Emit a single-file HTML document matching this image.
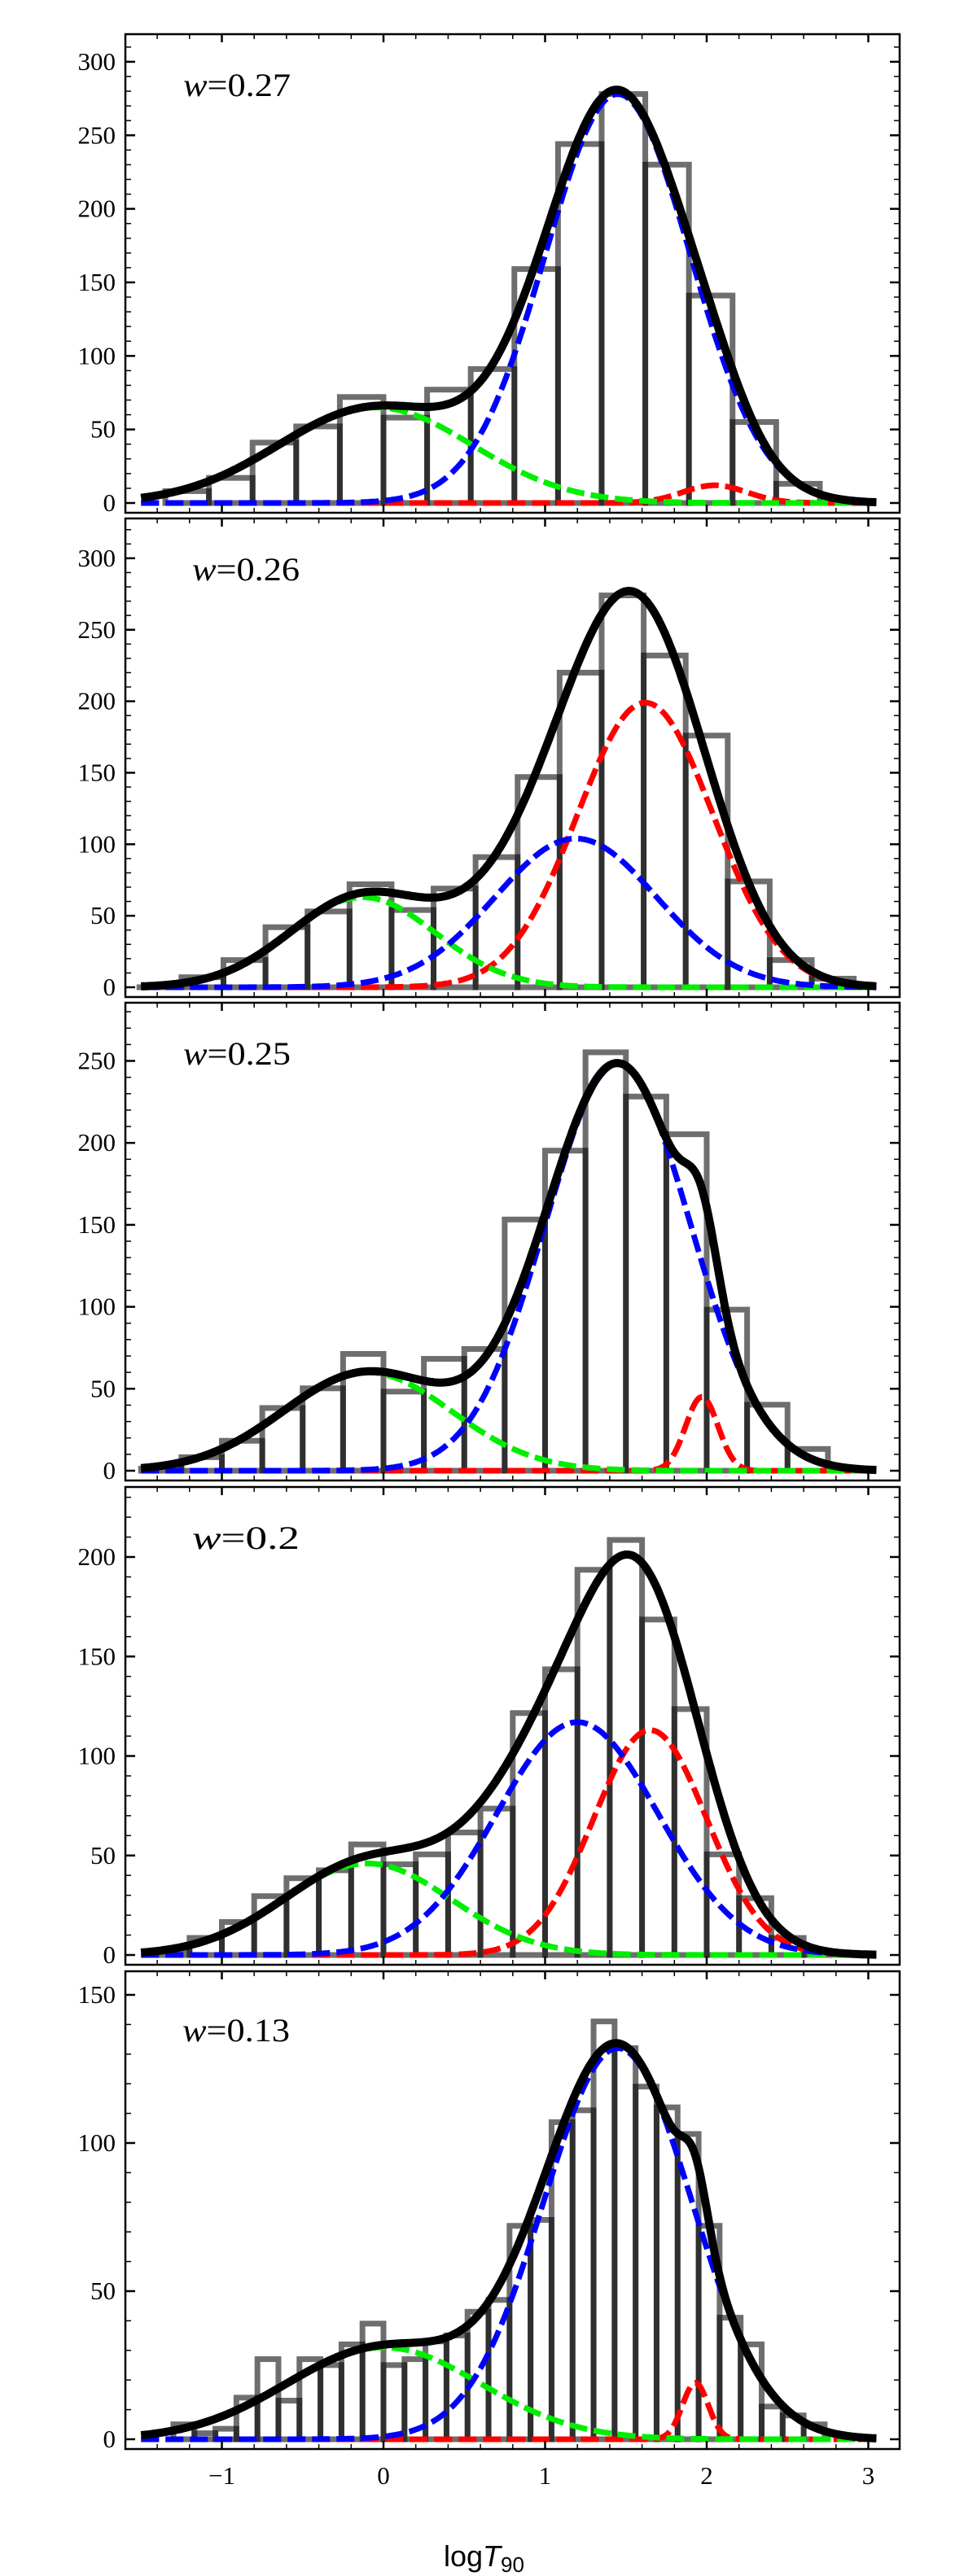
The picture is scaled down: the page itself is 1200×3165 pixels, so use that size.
<!DOCTYPE html>
<html><head><meta charset="utf-8"><style>
html,body{margin:0;padding:0;background:#fff;}
svg{display:block;}
.num{font-family:"Liberation Serif","Times New Roman",serif;}
</style></head><body>
<svg id="chart" width="1200" height="3165" viewBox="0 0 1200 3165" xmlns="http://www.w3.org/2000/svg">
<g id="layer"></g>
<text x="545" y="3153" style="font-family:'Liberation Sans',sans-serif" font-size="36">log<tspan font-style="italic">T</tspan><tspan font-size="26" dy="7">90</tspan></text>
</svg>
<script>
// ---- data ----
const binWidths = [0.27, 0.26, 0.25, 0.2, 0.13];
const binStarts = [-1.35, -1.51, -1.5, -1.4, -1.30];
const counts1 = [10, 19, 43, 54, 74, 60, 79, 93, 161, 246, 280, 232, 143, 57, 15, 2];
const counts2 = [2, 9, 21, 44, 55, 74, 56, 71, 93, 149, 222, 276, 234, 178, 76, 21, 8];
const counts3 = [3, 10, 20, 40, 52, 73, 50, 70, 76, 155, 197, 257, 230, 207, 100, 42, 15, 3];
const counts4 = [3, 10, 18, 31, 40, 44, 57, 47, 52, 63, 75, 123, 145, 195, 210, 170, 125, 52, 30, 10, 3];
const counts5 = [6, 3, 4.5, 15, 28, 14, 28, 26, 33, 40, 26, 28, 34, 36, 44, 48, 73, 75, 108, 112, 142, 133, 120, 113, 104, 73, 42, 33, 12, 9, 6];
// component parameters: [amplitude, mean, sigma]
const green1 = [65, -0.05, 0.6],  blue1 = [278, 1.45, 0.45], red1 = [12, 2.05, 0.2];
const green2 = [63, -0.13, 0.45], blue2 = [104, 1.19, 0.5],  red2 = [199, 1.62, 0.42];
const green3 = [60, -0.1, 0.52],  blue3 = [248, 1.45, 0.45], red3 = [45, 1.97, 0.1];
const green4 = [46, -0.1, 0.52],  blue4 = [117, 1.2, 0.5],   red4 = [113, 1.65, 0.35];
const green5 = [31, 0.0, 0.6],    blue5 = [132, 1.45, 0.46], red5 = [19, 1.93, 0.08];
const wLabels = ["0.27", "0.26", "0.25", "0.2", "0.13"];
const yMaxTicks = [300, 300, 250, 200, 150];
const xTickLabels = ["\u22121", "0", "1", "2", "3"];
const xTickValues = [-1, 0, 1, 2, 3];

// ---- layout ----
const NS = "http://www.w3.org/2000/svg";
const layer = document.getElementById("layer");
const L = 154, R = 1105;
const panelTop = [42, 637, 1232, 1827, 2422];
const panelZero = [618, 1213, 1807, 2402, 2997];
const panelScale = [1.807, 1.757, 2.014, 2.445, 3.64];
const labelX = [225, 236, 225, 236, 224];
const allCounts = [counts1, counts2, counts3, counts4, counts5];
const greens = [green1, green2, green3, green4, green5];
const blues = [blue1, blue2, blue3, blue4, blue5];
const reds = [red1, red2, red3, red4, red5];
function xs(v) { return 471 + v * 198.5; }
function mk(tag, attrs, parent) {
  const e = document.createElementNS(NS, tag);
  for (const k in attrs) e.setAttribute(k, attrs[k]);
  (parent || layer).appendChild(e);
  return e;
}
function gauss(p, x) { return p[0] * Math.exp(-((x - p[1]) ** 2) / (2 * p[2] * p[2])); }

for (let i = 0; i < 5; i++) {
  const top = panelTop[i], zero = panelZero[i], sc = panelScale[i], bot = zero + 12;
  const ys = v => zero - v * sc;
  const g = mk("g", {});
  
  
  const clipId = "clip" + i;
  const cp = mk("clipPath", { id: clipId }, g);
  mk("rect", { x: L, y: top, width: R - L, height: bot - top }, cp);
  const inner = mk("g", { "clip-path": "url(#" + clipId + ")" }, g);

  // bars
  const cnt = allCounts[i];
  for (let b = 0; b < cnt.length; b++) {
    const x0 = xs(binStarts[i] + b * binWidths[i]), x1 = xs(binStarts[i] + (b + 1) * binWidths[i]);
    const yt = ys(cnt[b]) + 3.5;
    const r = mk("rect", { x: x0, y: yt, width: x1 - x0, height: Math.max(0, zero - yt), fill: "none", stroke: "#000", "stroke-opacity": "0.57", "stroke-width": "7" }, inner);
    
    
  }

  // curves
  function pathFor(fn) {
    let d = "";
    for (let x = -1.5; x <= 3.05001; x += 0.01) {
      d += (d ? "L" : "M") + xs(x).toFixed(1) + "," + ys(fn(x)).toFixed(1);
    }
    return d;
  }
  const comps = [[reds[i], "#ff0000", "red-component-curve"], [greens[i], "#00ee00", "green-component-curve"], [blues[i], "#0000ff", "blue-component-curve"]];
  for (const c of comps) {
    const p = mk("path", { d: pathFor(x => gauss(c[0], x)), fill: "none", stroke: c[1], "stroke-width": "7", "stroke-dasharray": "22 8" }, inner);
    
    
  }
  const tot = mk("path", { d: pathFor(x => gauss(greens[i], x) + gauss(blues[i], x) + gauss(reds[i], x)), fill: "none", stroke: "#000", "stroke-width": "10", "stroke-linejoin": "round" }, inner);
  
  

  // frame
  const fr = mk("rect", { x: L, y: top, width: R - L, height: bot - top, fill: "none", stroke: "#000", "stroke-width": "2.5" }, g);
  
  

  // y ticks
  for (let v = 0; ; v += 10) {
    const y = ys(v);
    if (y < top + 2) break;
    const major = v % 50 === 0;
    const len = major ? 12 : 7;
    mk("line", { x1: L, y1: y, x2: L + len, y2: y, stroke: "#000", "stroke-width": major ? 2.5 : 1.5 }, g);
    mk("line", { x1: R, y1: y, x2: R - len, y2: y, stroke: "#000", "stroke-width": major ? 2.5 : 1.5 }, g);
    if (major && v <= yMaxTicks[i]) {
      const t = mk("text", { x: 142, y: y + 10, "text-anchor": "end", "class": "num", "font-size": "31" }, g);
      t.textContent = String(v);
      
      
    }
  }
  // x ticks
  for (let k = -8; k <= 16; k++) {
    const v = k * 0.2;
    const x = xs(v);
    if (x < L + 3 || x > R - 3) continue;
    const major = k % 5 === 0;
    const len = major ? 10 : 6;
    mk("line", { x1: x, y1: bot, x2: x, y2: bot - len, stroke: "#000", "stroke-width": major ? 2.5 : 1.5 }, g);
    mk("line", { x1: x, y1: top, x2: x, y2: top + len, stroke: "#000", "stroke-width": major ? 2.5 : 1.5 }, g);
  }
  // w label
  const wl = mk("text", { x: labelX[i], y: top + (i === 4 ? 86 : 76), "class": "num", "font-size": "40", textLength: "132", lengthAdjust: "spacingAndGlyphs" }, g);
  wl.innerHTML = '<tspan font-style="italic">w</tspan>=' + wLabels[i];
  
  
}
// x tick labels
for (let j = 0; j < xTickValues.length; j++) {
  const t = mk("text", { x: xs(xTickValues[j]), y: 3052, "text-anchor": "middle", "class": "num", "font-size": "31" });
  t.textContent = xTickLabels[j];
  
  
}
</script>
</body></html>
